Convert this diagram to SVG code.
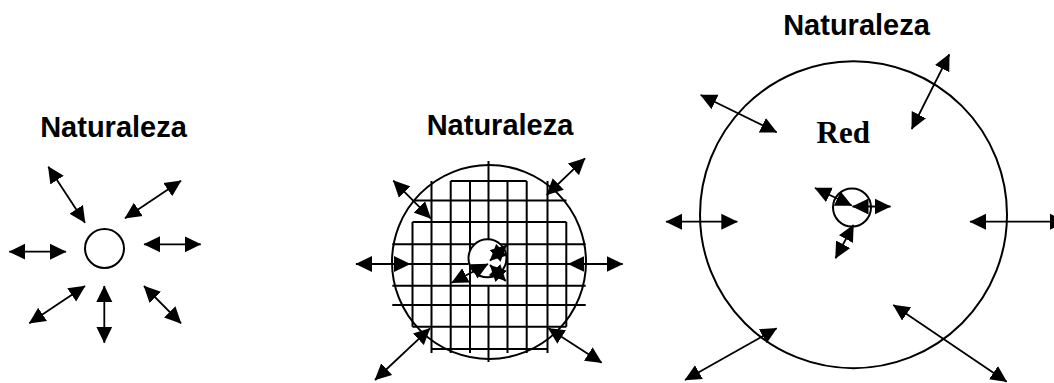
<svg xmlns="http://www.w3.org/2000/svg" width="1054" height="383" viewBox="0 0 1054 383">
<style>
.c{fill:none;stroke:#000;stroke-width:2}
.g{fill:none;stroke:#000;stroke-width:2}
.a{fill:none;stroke:#000;stroke-width:1.8;marker-start:url(#ah);marker-end:url(#ah)}
.lab{font-family:"Liberation Sans",Arial,sans-serif;font-weight:bold;font-size:29px;fill:#000}
.red{font-family:"Liberation Serif","Times New Roman",serif;font-weight:bold;font-size:31px;fill:#000}
</style>
<defs>
<marker id="ah" markerUnits="userSpaceOnUse" viewBox="0 0 17 17" markerWidth="17" markerHeight="17" refX="16" refY="8.5" orient="auto-start-reverse">
<path d="M0,0.5 L16.5,8.5 L0,16.5 z" fill="#000"/>
</marker>
</defs>
<rect width="1054" height="383" fill="#fff"/>

<g id="labels">
<text class="lab" x="113.5" y="136.5" text-anchor="middle">Naturaleza</text>
<text class="lab" x="500" y="135" text-anchor="middle">Naturaleza</text>
<text class="lab" x="856.5" y="35" text-anchor="middle">Naturaleza</text>
<text class="red" x="816.5" y="143.3">Red</text>
</g>

<g id="node-left">
<circle class="c" cx="104.5" cy="248.5" r="19.5"/>
</g>

<g id="node-middle">
<circle class="c" cx="489" cy="262" r="97"/>
<g id="grid">
<path class="g" d="M450.7,181H526.7 M414,200.5H566.5 M412.5,222H566.3 M392.3,244.3H585.7 M393,264H468.5 M506.5,264H585 M392.3,285.8H585.7 M392.3,305H585.7 M412.5,326.7H566.3 M431.5,349H547.5"/>
<path class="g" d="M412.5,222V326.7 M431.5,181V353 M450.7,181V353 M470,181V353 M488.5,161V239.3 M488.5,285.7V362 M507.5,181V353 M526.7,181V353 M547.5,181V353 M566.3,222V326.7"/>
</g>
<circle cx="487.5" cy="258.3" r="19" fill="#fff" stroke="#000" stroke-width="2"/>
</g>

<g id="node-right">
<circle class="c" cx="853.5" cy="214.7" r="153.5"/>
<circle class="c" cx="852" cy="207.5" r="19"/>
</g>

<g id="connectors">
<line class="a" x1="48.3" y1="166.7" x2="85" y2="222.7"/>
<line class="a" x1="181" y1="180.7" x2="125" y2="218.3"/>
<line class="a" x1="9.3" y1="251.7" x2="66" y2="251.7"/>
<line class="a" x1="144" y1="244.3" x2="200.7" y2="244.3"/>
<line class="a" x1="29.3" y1="323.3" x2="85" y2="286"/>
<line class="a" x1="104.3" y1="286" x2="104.3" y2="342.7"/>
<line class="a" x1="144" y1="286" x2="181" y2="323.3"/>

<line class="a" x1="393.3" y1="180.7" x2="430.7" y2="218.3"/>
<line class="a" x1="585" y1="158.3" x2="546.7" y2="195"/>
<line class="a" x1="356" y1="264" x2="410" y2="264"/>
<line class="a" x1="568.3" y1="264" x2="622.7" y2="264"/>
<line class="a" x1="430" y1="328.3" x2="375" y2="380"/>
<line class="a" x1="548.3" y1="328.3" x2="601.7" y2="362.7"/>
<line class="a" x1="490" y1="260.7" x2="506.7" y2="245"/>
<line class="a" x1="488" y1="264" x2="451.7" y2="282.7"/>
<line class="a" x1="490" y1="265" x2="505.7" y2="281"/>

<line class="a" x1="700.7" y1="95" x2="776.7" y2="132.3"/>
<line class="a" x1="949.3" y1="54.3" x2="911.7" y2="129"/>
<line class="a" x1="666" y1="221.7" x2="737.3" y2="221.7"/>
<line class="a" x1="970" y1="221.7" x2="1066" y2="221.7"/>
<line class="a" x1="776.7" y1="328.3" x2="685" y2="380"/>
<line class="a" x1="893.3" y1="305" x2="1006.7" y2="381.7"/>
<line class="a" x1="815" y1="188" x2="851.7" y2="205.5"/>
<line class="a" x1="852.5" y1="206.5" x2="890.5" y2="206.5"/>
<line class="a" x1="853.5" y1="225" x2="835.5" y2="258.3"/>
</g>
</svg>
